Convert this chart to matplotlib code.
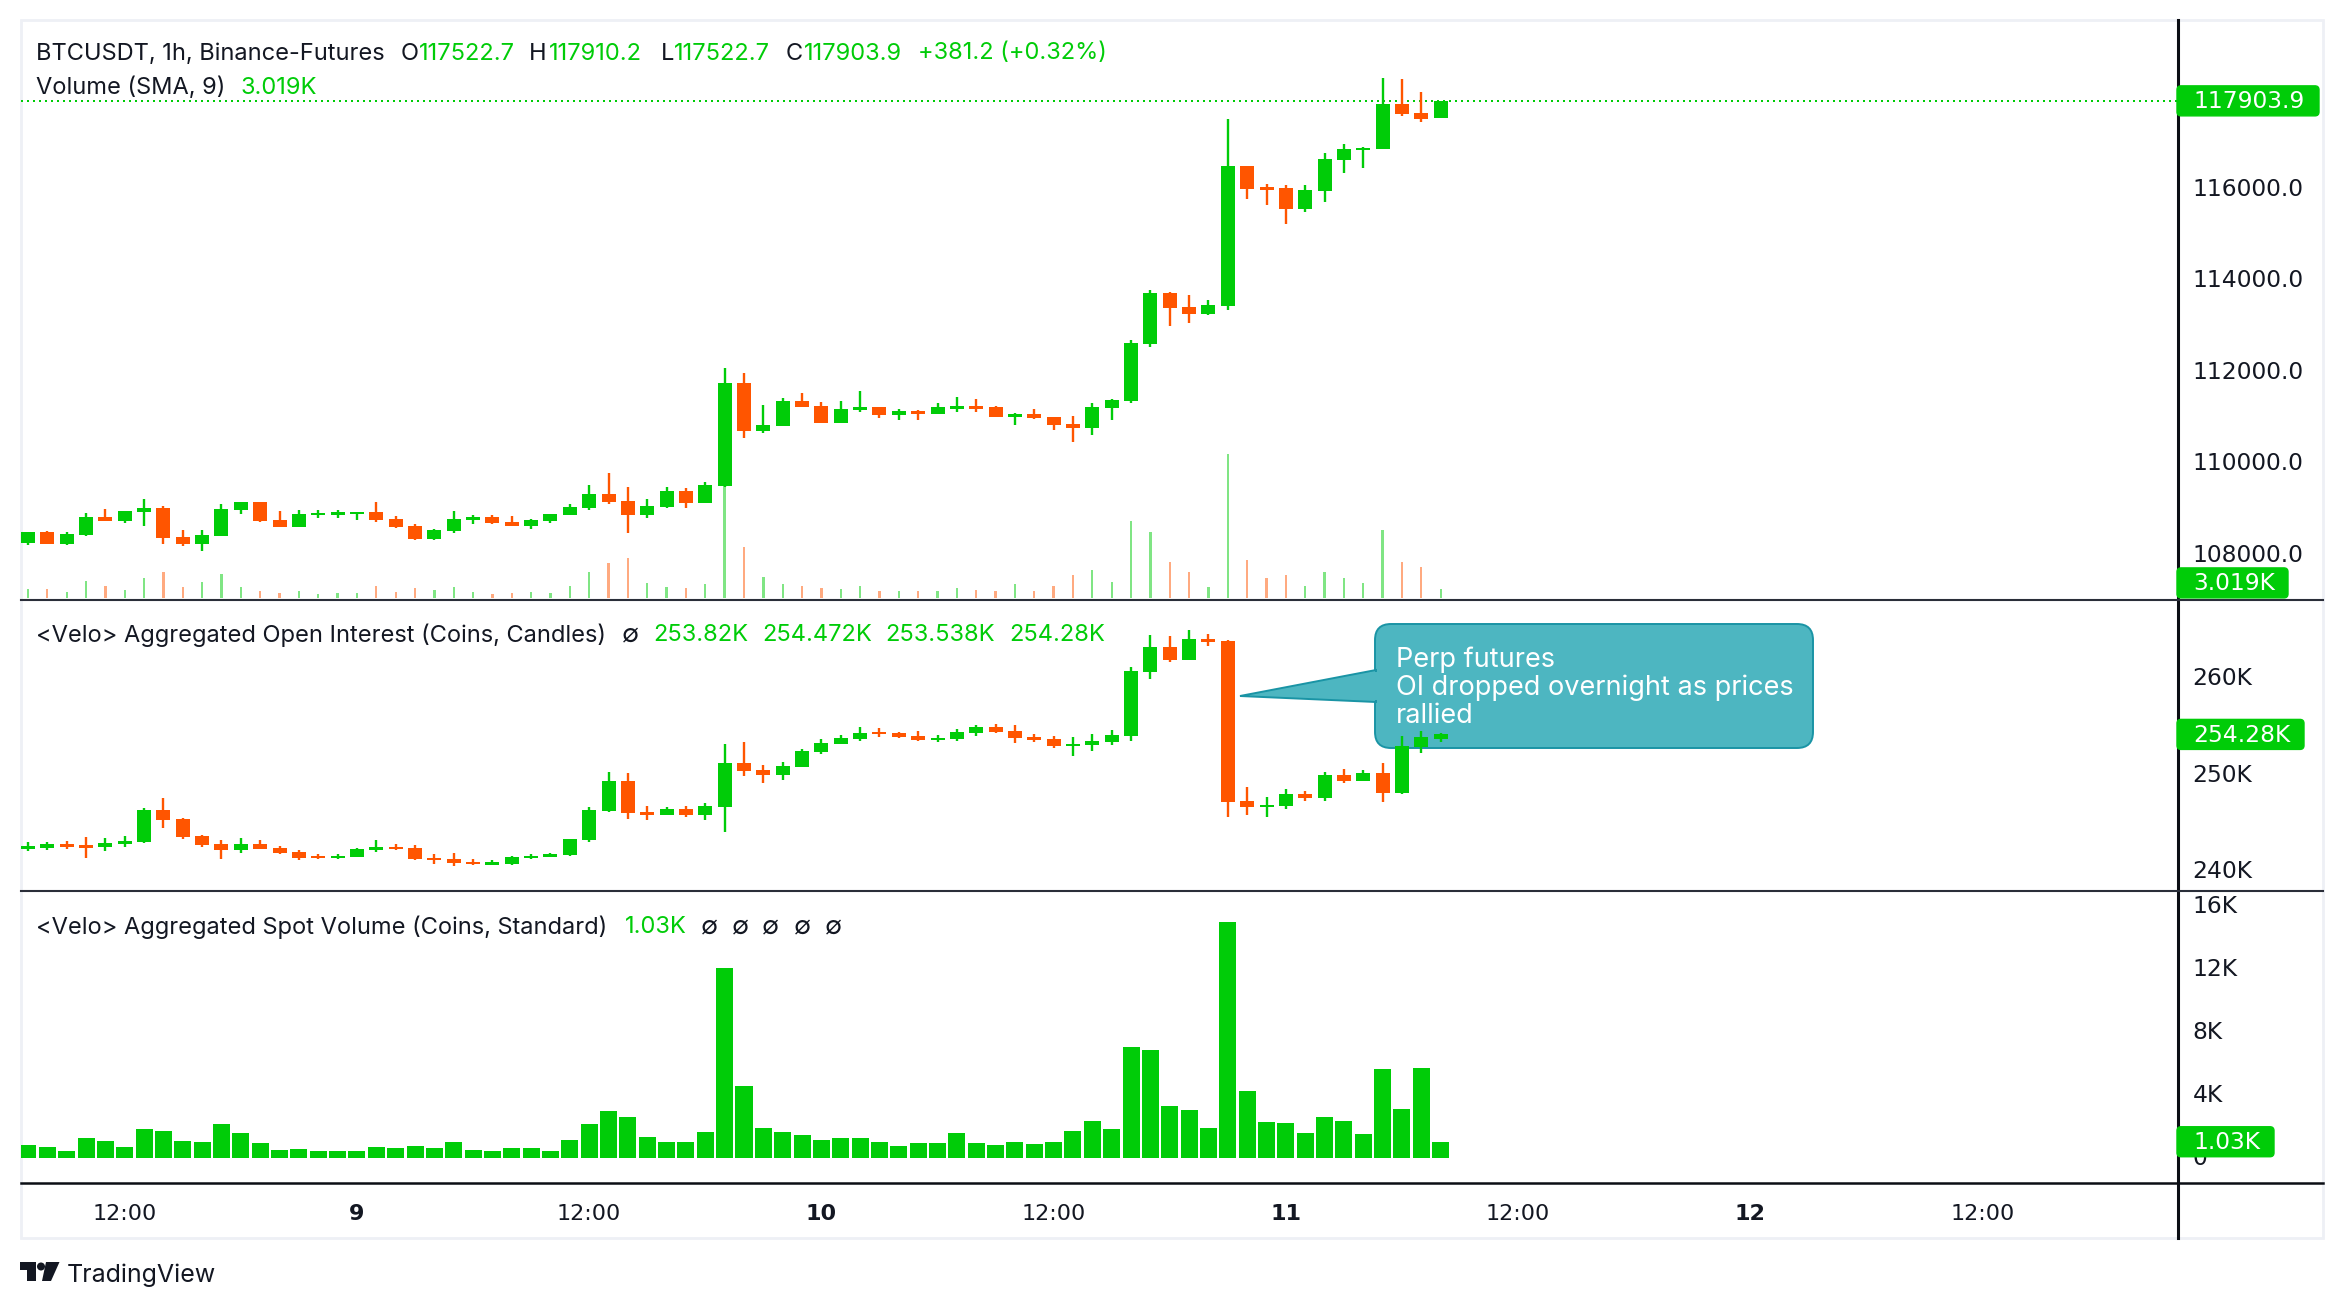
import matplotlib
matplotlib.use("Agg")
import matplotlib.pyplot as plt
from matplotlib.patches import FancyBboxPatch, Polygon, Circle, Rectangle
from matplotlib.lines import Line2D
from matplotlib.transforms import ScaledTranslation

plt.rcParams['font.family'] = ['Inter', 'DejaVu Sans']

GREEN = "#00cc08"
RED = "#ff5500"
INK = "#131722"
W, H = 2344, 1308
BAR_PX = 19.35
AXIS_X = 2178
FRAME_R = 2323
XLIM = (-0.36, 111.1)

# price candles, hourly
price_open = [108230,108470,108208,108405,108798,108711,108908,108995,108361,108208,108383,108952,109127,108733,108580,108842,108842,108864,108908,108755,
              108601,108317,108492,108733,108798,108689,108601,108711,108842,108995,109302,109148,108842,109017,109367,109105,109477,111730,110680,110789,
              111336,111227,110855,111139,111205,111030,111118,111052,111161,111227,111205,110986,111052,110986,110833,110746,111183,111336,112584,113700,
              113394,113241,113416,116479,116019,115997,115538,115932,116610,116829,116851,117835,117638,117522.7]
price_high = [108470,108492,108470,108886,108973,108930,109192,109039,108514,108514,109083,109127,109127,108930,108952,108952,108952,108908,109127,108820,
              108645,108536,108930,108842,108842,108820,108755,108864,109083,109499,109761,109455,109192,109455,109433,109564,112058,111949,111249,111402,
              111511,111315,111336,111555,111205,111161,111139,111293,111424,111380,111227,111074,111161,110986,111008,111293,111380,112672,113766,113722,
              113656,113547,117507,116479,116085,116063,116063,116763,116960,116895,118404,118382,118098,117910.2]
price_low = [108186,108208,108186,108383,108711,108667,108601,108208,108164,108055,108383,108864,108689,108580,108580,108777,108777,108733,108689,108558,
             108295,108295,108448,108645,108645,108601,108536,108667,108842,108952,109083,108448,108777,108995,108995,109105,109455,110527,110636,110789,
             111205,110855,110855,111096,110964,110921,110921,111052,111096,111096,110986,110811,110943,110702,110439,110592,110921,111293,112519,112978,
             113044,113219,113328,115757,115626,115210,115472,115691,116326,116435,116851,117573,117442,117522.7]
price_close = [108470,108208,108426,108798,108711,108930,108995,108339,108208,108405,108973,109127,108711,108580,108864,108886,108908,108908,108733,108580,
               108317,108514,108755,108798,108667,108601,108733,108864,109017,109302,109127,108842,109039,109367,109105,109499,111730,110680,110811,111336,
               111205,110855,111161,111205,111030,111118,111052,111205,111227,111161,110986,111052,110964,110811,110746,111205,111358,112605,113700,113372,
               113241,113438,116479,115976,115954,115538,115954,116632,116851,116873,117835,117617,117507,117903.9]

# futures volume, thousands
volume = [1.8,1.8,1.2,3.4,2.4,1.6,4.0,5.2,2.2,3.2,4.8,2.2,1.4,1.0,1.4,0.8,1.0,1.0,2.4,1.2,
          2.0,1.6,2.2,1.2,0.8,1.0,1.2,1.0,2.4,5.2,7.0,8.0,3.0,2.2,2.0,2.8,24.0,10.2,4.2,2.8,
          2.4,2.0,1.8,2.4,1.4,1.4,1.4,1.4,2.0,1.6,1.4,2.8,1.4,2.4,4.6,5.6,3.2,15.4,13.2,7.2,
          5.2,2.2,28.8,7.6,4.0,4.6,2.4,5.2,4.0,3.0,13.6,7.2,6.2,1.8]

# open interest candles, thousands of coins
oi_open = [242.35,242.45,242.87,242.76,242.55,242.87,243.07,246.41,245.47,243.70,242.87,242.24,242.87,242.45,242.03,241.58,241.41,241.51,242.24,242.55,
           242.45,241.41,241.30,240.99,240.71,240.78,241.41,241.51,241.72,243.28,246.30,249.43,246.20,245.89,246.51,245.89,246.72,251.30,250.57,250.05,
           250.89,252.45,253.28,253.80,254.53,254.43,254.11,253.70,253.80,254.43,255.05,254.64,254.01,253.80,253.07,253.18,253.49,254.11,260.78,263.38,
           262.03,264.22,264.01,247.34,246.72,246.82,248.07,247.66,250.05,249.43,250.26,248.18,252.97,253.82]
oi_high = [243.07,243.07,243.18,243.60,243.49,243.70,246.62,247.66,245.58,243.80,243.28,243.49,243.28,242.66,242.24,241.83,241.83,242.45,243.28,242.87,
           242.76,241.83,241.93,241.30,241.20,241.62,241.83,241.93,243.39,246.72,250.37,250.26,246.83,246.72,246.83,247.14,253.28,253.49,251.09,251.41,
           252.76,253.80,254.22,255.05,254.95,254.53,254.64,254.22,254.84,255.26,255.36,255.26,254.32,254.11,254.01,254.32,254.74,261.30,264.63,264.53,
           265.16,264.74,264.11,248.80,247.76,248.59,248.39,250.36,250.68,250.57,251.30,254.11,254.64,254.472]
oi_low = [242.14,242.24,242.35,241.41,242.14,242.55,242.97,244.53,243.39,242.55,241.30,241.93,242.35,241.83,241.20,241.30,241.30,241.51,242.03,242.24,
          241.20,240.78,240.57,240.68,240.68,240.68,241.30,241.51,241.62,243.07,246.20,245.47,245.37,245.89,245.68,245.36,244.12,249.95,249.22,249.53,
          250.89,252.24,253.28,253.59,254.01,253.91,253.59,253.49,253.59,254.11,254.43,253.39,253.49,252.86,252.03,252.55,253.18,253.59,260.05,261.82,
          262.03,263.49,245.68,245.89,245.68,246.51,247.34,247.34,249.22,249.43,247.24,248.07,252.34,253.538]
oi_close = [242.66,242.87,242.55,242.45,242.97,243.18,246.41,245.37,243.60,242.76,242.24,242.87,242.35,241.93,241.41,241.37,241.62,242.35,242.55,242.35,
            241.30,241.20,240.89,240.78,240.99,241.51,241.62,241.83,243.39,246.41,249.43,246.10,245.89,246.51,245.89,246.82,251.30,250.47,250.05,250.99,
            252.55,253.39,253.91,254.43,254.32,254.01,253.70,253.91,254.53,255.05,254.53,253.91,253.70,253.07,253.28,253.59,254.22,260.88,263.38,262.03,
            264.22,263.91,247.24,246.72,246.93,248.07,247.66,250.05,249.43,250.26,248.18,253.07,254.01,254.28]

# aggregated spot volume, thousands of coins
spot_volume = [0.83,0.70,0.44,1.27,1.08,0.70,1.84,1.71,1.08,1.02,2.16,1.59,0.95,0.51,0.57,0.44,0.44,0.44,0.70,0.63,
               0.76,0.63,1.02,0.51,0.44,0.63,0.63,0.44,1.14,2.16,2.98,2.60,1.33,1.02,1.02,1.65,12.06,4.57,1.90,1.65,
               1.46,1.14,1.27,1.27,1.02,0.76,0.95,0.95,1.59,0.95,0.83,1.02,0.89,1.02,1.71,2.35,1.84,7.05,6.86,3.30,
               3.05,1.90,14.98,4.25,2.29,2.22,1.59,2.60,2.35,1.52,5.65,3.11,5.71,1.03]

price_ticks = [108000, 110000, 112000, 114000, 116000]
price_tick_labels = ["108000.0", "110000.0", "112000.0", "114000.0", "116000.0"]
oi_ticks = [240, 250, 260]
oi_tick_labels = ["240K", "250K", "260K"]
spot_ticks = [0, 4, 8, 12, 16]
spot_tick_labels = ["0", "4K", "8K", "12K", "16K"]
time_ticks = [5, 17, 29, 41, 53, 65, 77, 89, 101]
time_tick_labels = ["12:00", "9", "12:00", "10", "12:00", "11", "12:00", "12", "12:00"]


def pane(top, bottom):
    left = 21
    return fig.add_axes([left / W, 1 - bottom / H, (AXIS_X - left) / W, (bottom - top) / H])


def draw_candles(ax, opens, highs, lows, closes):
    xs = range(len(opens))
    colors = [GREEN if c >= o else RED for o, c in zip(opens, closes)]
    ax.vlines(xs, lows, highs, colors=colors, linewidth=1.7, zorder=2)
    bottoms = [min(o, c) for o, c in zip(opens, closes)]
    heights = [abs(o - c) for o, c in zip(opens, closes)]
    ax.bar(xs, heights, bottom=bottoms, width=14 / BAR_PX, color=colors, linewidth=0, zorder=3)


def style_pane(ax, ticks, labels, lift):
    for s in ax.spines.values():
        s.set_visible(False)
    ax.set_xlim(*XLIM)
    ax.yaxis.tick_right()
    ax.set_yticks(ticks)
    ax.set_yticklabels(labels, fontsize=16.8, color=INK, family='DejaVu Sans')
    ax.tick_params(axis='y', length=0, pad=10.5)
    ax.tick_params(axis='x', length=0, labelbottom=False)
    ax.patch.set_visible(False)
    for lab in ax.get_yticklabels():
        lab.set_transform(lab.get_transform() + ScaledTranslation(0, lift / 100, fig.dpi_scale_trans))


def put(x, y, s, color=INK, size=17, **kw):
    over.text(x, y, s, color=color, fontsize=size, va='center', **kw)


def tag(ax, value, text, right):
    # value tag on the price scale, follows the series value
    y = H - ax.transData.transform((0, value))[1]
    over.add_patch(FancyBboxPatch((AXIS_X - 1, y - 15), right - AXIS_X + 1, 30, boxstyle="round,pad=0,rounding_size=4",
                                  fc=GREEN, ec=GREEN, lw=1, zorder=5))
    over.text(2193, y + 1, text, color="white", fontsize=16.8, va='center', family='DejaVu Sans', zorder=6)


fig = plt.figure(figsize=(W / 100, H / 100), dpi=100, facecolor="white")

# page level layer under the panes, holds frame and callout
back = fig.add_axes([0, 0, 1, 1], zorder=0)
back.set_xlim(0, W)
back.set_ylim(H, 0)
back.axis('off')
back.add_patch(Rectangle((21, 20), FRAME_R - 21, 1218, fc="white", ec="#eef0f5", lw=2))

# callout sits behind the candles
TEAL, TEAL_EDGE = "#4db6c1", "#1a94a5"
back.add_patch(FancyBboxPatch((1375, 624), 438, 124, boxstyle="round,pad=0,rounding_size=16",
                              fc=TEAL, ec=TEAL_EDGE, lw=1.4))
back.add_patch(Polygon([(1376, 670), (1240, 696), (1376, 702)], closed=True, fc=TEAL, ec=TEAL_EDGE, lw=1.4))
back.add_patch(Rectangle((1370, 672), 10, 28, fc=TEAL, ec="none"))
for y, line in zip([660, 688, 716], ["Perp futures", "OI dropped overnight as prices", "rallied"]):
    back.text(1396, y, line, color="white", fontsize=19.5, va='center')

ax_price = pane(20, 600)
ax_oi = pane(600, 891)
ax_spot = pane(891, 1183)
for a in (ax_price, ax_oi, ax_spot):
    a.set_zorder(2)

# price pane with volume behind it
ax_vol = ax_price.twinx()
ax_vol.set_position(ax_price.get_position())
ax_vol.set_zorder(1)
ax_vol.patch.set_visible(False)
ax_vol.axis('off')
ax_vol.set_xlim(*XLIM)
ax_vol.set_ylim(-0.4, 115.6)
vol_colors = ["#80e584" if c >= o else "#ffaa80" for o, c in zip(price_open, price_close)]
ax_vol.bar(range(len(volume)), volume, width=2.3 / BAR_PX, color=vol_colors, linewidth=0)

draw_candles(ax_price, price_open, price_high, price_low, price_close)
ax_price.set_ylim(106983, 119673)
style_pane(ax_price, price_ticks, price_tick_labels, 1)
ax_price.axhline(price_close[-1], color=GREEN, lw=1.44, ls=(0, (1, 2)), zorder=1)

draw_candles(ax_oi, oi_open, oi_high, oi_low, oi_close)
ax_oi.set_ylim(237.97, 268.28)
style_pane(ax_oi, oi_ticks, oi_tick_labels, 3)

ax_spot.bar(range(len(spot_volume)), spot_volume, width=17 / BAR_PX, color=GREEN, linewidth=0)
ax_spot.set_ylim(-1.59, 16.95)
style_pane(ax_spot, spot_ticks, spot_tick_labels, 2)
ax_spot.set_xticks(time_ticks)
ax_spot.set_xticklabels(time_tick_labels, fontsize=16, color=INK, family='DejaVu Sans')
ax_spot.tick_params(axis='x', labelbottom=True, pad=15.4)
for lab, txt in zip(ax_spot.get_xticklabels(), time_tick_labels):
    if ":" not in txt:
        lab.set_fontweight('bold')

# top layer, rules, tags, legends
over = fig.add_axes([0, 0, 1, 1], zorder=5)
over.set_xlim(0, W)
over.set_ylim(H, 0)
over.axis('off')
over.patch.set_visible(False)

over.add_line(Line2D([AXIS_X, AXIS_X], [20, 1238], color="#0b0e14", lw=2.2))
over.add_line(Line2D([21, FRAME_R], [600, 600], color="#2a2e39", lw=1.5))
over.add_line(Line2D([21, FRAME_R], [891, 891], color="#2a2e39", lw=1.5))
over.add_line(Line2D([21, FRAME_R], [1183, 1183], color="#0b0e14", lw=1.8))

tag(ax_price, price_close[-1], "117903.9", 2319)
tag(ax_vol, 3.019, "3.019K", 2288)
tag(ax_oi, oi_close[-1], "254.28K", 2304)
tag(ax_spot, spot_volume[-1], "1.03K", 2274)

put(36, 53.5, "BTCUSDT, 1h, Binance-Futures")
for x, s in [(401, "O"), (529, "H"), (661, "L"), (786, "C")]:
    put(x, 53.5, s)
for x, s in [(418.5, "117522.7"), (548.6, "117910.2"), (674, "117522.7"), (804, "117903.9"), (918, "+381.2 (+0.32%)")]:
    put(x, 53.5, s, GREEN)
put(36, 87.5, "Volume (SMA, 9)")
put(240.7, 87.5, "3.019K", GREEN)

put(36, 635, "<Velo> Aggregated Open Interest (Coins, Candles)")
put(622, 635, "∅", size=18)
for x, s in [(653, "253.82K"), (762, "254.472K"), (885, "253.538K"), (1009, "254.28K")]:
    put(x, 635, s, GREEN)

put(36, 927, "<Velo> Aggregated Spot Volume (Coins, Standard)")
put(625, 927, "1.03K", GREEN)
for x in [701, 732, 762, 794, 825]:
    put(x, 927, "∅", size=18)

# TradingView mark
over.add_patch(Polygon([(20, 1262), (36, 1262), (36, 1281), (27, 1281), (27, 1270), (20, 1270)], closed=True, fc=INK, ec="none"))
over.add_patch(Circle((41, 1266.5), 4, fc=INK, ec="none"))
over.add_patch(Polygon([(46, 1262), (59.5, 1262), (51, 1281), (42, 1281)], closed=True, fc=INK, ec="none"))
put(67, 1275.5, "TradingView", size=18)

fig.savefig("out.png", dpi=100)
